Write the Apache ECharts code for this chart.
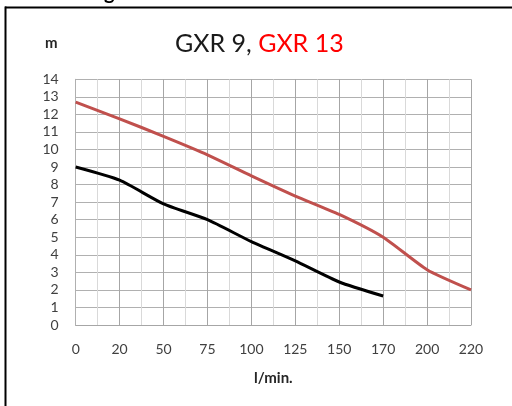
<!DOCTYPE html>
<html>
<head>
<meta charset="utf-8">
<script src="https://cdn.jsdelivr.net/npm/echarts@6/dist/echarts.min.js"></script>
<style>html,body{margin:0;padding:0;background:#fff}#c{width:512px;height:406px}</style>
</head>
<body>
<div id="c"></div>
<script>
const categories = ['0','20','50','75','100','125','150','170','200','220'];
const gxr9 = [9.0, 8.25, 6.9, 6.0, 4.75, 3.65, 2.45, 1.65];
const gxr13 = [12.7, 11.75, 10.75, 9.7, 8.5, 7.35, 6.3, 5.0, 3.15, 2.0];
const yTicks = [0,1,2,3,4,5,6,7,8,9,10,11,12,13,14];

const FONT = 'Lato, "Open Sans", sans-serif';
const chart = echarts.init(document.getElementById('c'));
chart.setOption({
  animation: false,
  backgroundColor: '#fff',
  grid: {left: 75.7, right: 41, top: 79.3, bottom: 81, containLabel: false, show: false},
  xAxis: {
    type: 'value', min: 0, max: categories.length - 1, interval: 1,
    axisLine: {show: true, lineStyle: {color: '#a6a6a6', width: 1}},
    axisTick: {show: false},
    minorTick: {show: false, splitNumber: 2},
    minorSplitLine: {show: true, lineStyle: {color: '#d9d9d9', width: 1}},
    splitLine: {show: true, lineStyle: {color: '#a6a6a6', width: 1}},
    axisLabel: {
      margin: 17, fontFamily: FONT, fontSize: 14, color: '#404040',
      formatter: v => categories[Math.round(v)] ?? ''
    },
    name: 'l/min.', nameLocation: 'middle', nameGap: 46,
    nameTextStyle: {fontFamily: FONT, fontSize: 15, fontWeight: 'bold', color: '#262626'}
  },
  yAxis: {
    type: 'value', min: yTicks[0], max: yTicks[yTicks.length-1], interval: 1,
    axisLine: {show: true, lineStyle: {color: '#b0b0b0', width: 1}},
    axisTick: {show: false},
    splitLine: {show: true, lineStyle: {color: '#b0b0b0', width: 1}},
    axisLabel: {margin: 17, fontFamily: FONT, fontSize: 14, color: '#404040'}
  },
  series: [
    {
      type: 'line', name: 'GXR 9', smooth: 0.2, symbol: 'none',
      lineStyle: {color: '#000000', width: 3},
      data: gxr9.map((v, i) => [i, v])
    },
    {
      type: 'line', name: 'GXR 13', smooth: 0.2, symbol: 'none',
      lineStyle: {color: '#c0504d', width: 3},
      data: gxr13.map((v, i) => [i, v])
    }
  ],
  graphic: [
    {type: 'line', shape: {x1: 5, y1: 7.5, x2: 512, y2: 7.5}, style: {stroke: '#000', lineWidth: 2}},
    {type: 'line', shape: {x1: 5.5, y1: 6.5, x2: 5.5, y2: 406}, style: {stroke: '#000', lineWidth: 2}},
    {type: 'text', left: 104, top: -17, style: {text: 'g', font: 'bold 20px ' + FONT, fill: '#000'}},
    {type: 'text', left: 45, top: 36, style: {text: 'm', font: 'bold 15px ' + FONT, fill: '#262626'}},
    {type: 'text', left: 175, top: 31, style: {
      rich: {
        a: {fontFamily: FONT, fontSize: 25, fill: '#1a1a1a', color: '#1a1a1a'},
        b: {fontFamily: FONT, fontSize: 25, fill: '#ff0000', color: '#ff0000'}
      },
      text: '{a|GXR 9, }{b|GXR 13}'
    }}
  ]
});
</script>
</body>
</html>
